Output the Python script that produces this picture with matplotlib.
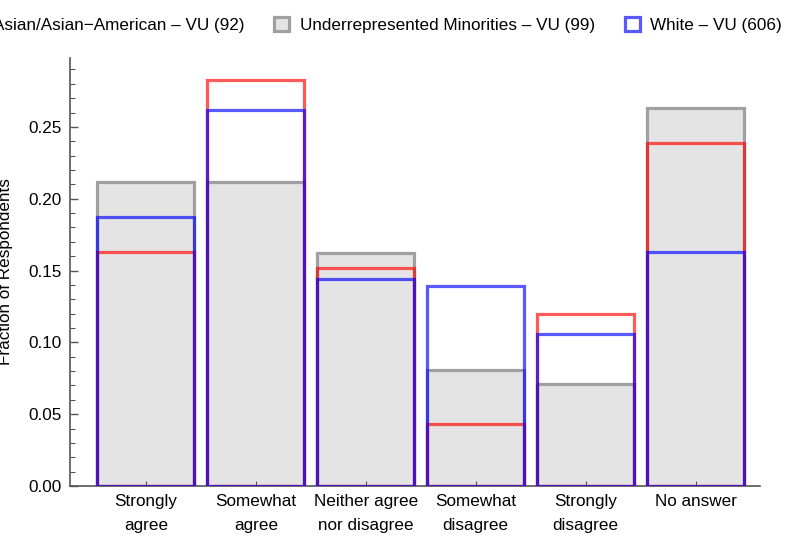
import matplotlib.pyplot as plt
import matplotlib.patches as mpatches
import matplotlib.ticker as ticker
import numpy as np

plt.rcParams['font.family'] = ['Liberation Sans', 'DejaVu Sans']

categories = ["Strongly\nagree", "Somewhat\nagree", "Neither agree\nnor disagree",
              "Somewhat\ndisagree", "Strongly\ndisagree", "No answer"]

# fraction of respondents per group
urm_vals = [0.212, 0.212, 0.162, 0.081, 0.071, 0.263]
asian_vals = [0.163, 0.283, 0.152, 0.043, 0.120, 0.239]
white_vals = [0.187, 0.262, 0.144, 0.139, 0.106, 0.163]

labels = ["Asian/Asian\u2212American \u2013 VU (92)",
          "Underrepresented Minorities \u2013 VU (99)",
          "White \u2013 VU (606)"]

gray_edge = "#a0a0a0"
gray_fill = "#e4e4e4"
red = (1.0, 0.0, 0.0, 0.65)
blue = (0.0, 0.0, 1.0, 0.65)
fs = 12.3

fig = plt.figure(figsize=(7.98, 5.43), dpi=100)
ax = fig.add_axes([70 / 798, 57 / 543, 690 / 798, 428 / 543])

x = np.arange(len(categories))
width = 0.88
lw = 2.3

ax.bar(x, urm_vals, width, facecolor=gray_fill, edgecolor=gray_edge, linewidth=lw, zorder=1)
ax.bar(x, asian_vals, width, facecolor="none", edgecolor=red, linewidth=lw, zorder=2)
ax.bar(x, white_vals, width, facecolor="none", edgecolor=blue, linewidth=lw, zorder=3)

ax.set_xlim(-0.69, 5.585)
ax.set_ylim(0, 0.298)
ax.set_xticks(x)
ax.set_xticklabels(categories, fontsize=fs, linespacing=1.7)
ax.yaxis.set_major_locator(ticker.MultipleLocator(0.05))
ax.yaxis.set_minor_locator(ticker.MultipleLocator(0.01))
ax.yaxis.set_major_formatter(ticker.FormatStrFormatter('%.2f'))
ax.tick_params(axis='y', which='major', direction='in', length=6, width=1,
               color='#555555', labelsize=fs, pad=6)
ax.tick_params(axis='y', which='minor', direction='in', length=3.5, width=0.8, color='#555555')
ax.tick_params(axis='x', which='major', direction='in', length=3.5, width=0.8,
               color='#555555', pad=6)

for side in ['top', 'right']:
    ax.spines[side].set_visible(False)
for side in ['left', 'bottom']:
    ax.spines[side].set_color('#555555')
    ax.spines[side].set_linewidth(1.2)
    ax.spines[side].set_zorder(0)

ax.set_ylabel("Fraction of Respondents", fontsize=fs, labelpad=11)

handles = [
    mpatches.Patch(facecolor="white", edgecolor=red, linewidth=lw),
    mpatches.Patch(facecolor=gray_fill, edgecolor=gray_edge, linewidth=lw),
    mpatches.Patch(facecolor="white", edgecolor=blue, linewidth=lw),
]
fig.legend(handles, labels, loc='center right', bbox_to_anchor=(782 / 798, 0.954),
           ncol=3, frameon=False, fontsize=fs, handlelength=0.9, handleheight=0.9,
           handletextpad=0.6, columnspacing=1.75, borderaxespad=0, borderpad=0)

fig.savefig("out.png", dpi=100)
